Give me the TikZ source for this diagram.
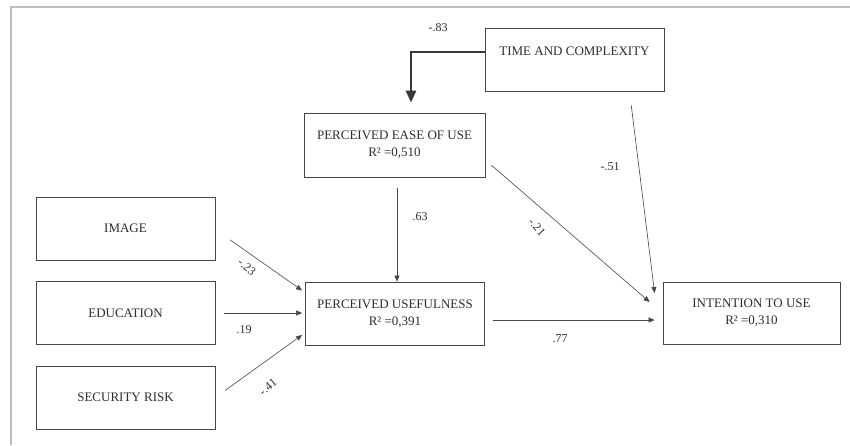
\documentclass[tikz,border=0pt]{standalone}
\usepackage{fontspec}
\setmainfont{Liberation Serif}
\usepackage{xcolor}
\usepackage{tikz}
\usetikzlibrary{positioning, calc, arrows.meta}
\definecolor{tamLine}{RGB}{70, 70, 70}
\definecolor{tamText}{RGB}{45, 45, 45}
\definecolor{tamFrame}{RGB}{190, 190, 190}
\tikzset{
    base/.style={
        font=\fontsize{13}{17}\selectfont,
        text=tamText,
        align=center
    },
    construct/.style={
        base,
        rectangle,
        draw=tamLine,
        line width=0.8pt,
        fill=white,
        minimum width=179pt,
        minimum height=63pt,
        inner sep=0pt
    },
    path/.style={
        -{Triangle[length=6pt, width=5pt]},
        line width=0.6pt,
        color=tamLine
    },
    strong/.style={
        -{Triangle[length=12pt, width=10pt]},
        line width=2.6pt,
        color=tamLine!80!black
    },
    coef/.style={
        base,
        font=\fontsize{12}{14}\selectfont,
        inner sep=1pt
    }
}

\begin{document}
\begin{tikzpicture}[x=1pt, y=-1pt]
    \useasboundingbox (0,0) rectangle (850,445);

    % Frame
    \draw[tamFrame, line width=1.6pt] (11,445) -- (11,7) -- (850,7);

    % Constructs
    \node[construct] (image) at (125.5,228.5) {IMAGE};
    \node[construct] (education) at (125.5,313) {EDUCATION};
    \node[construct] (security) at (125.5,397.5) {SECURITY RISK};
    \node[construct] (pu) at (395,313.5) {PERCEIVED USEFULNESS\\R² =0,391};
    \node[construct, minimum width=181pt, minimum height=64pt] (peou) at (394.5,145) {PERCEIVED EASE OF USE\\R² =0,510};
    \node[construct] (tac) at (574.5,59.5) {TIME AND COMPLEXITY\\~};
    \node[construct, minimum width=177pt, minimum height=62pt] (itu) at (751.5,313) {INTENTION TO USE\\R² =0,310};

    % Paths
    \draw[strong, shorten >=10pt] ([yshift=7.5pt]tac.west) -| ([xshift=16.5pt]peou.north);
    \draw[path, shorten <=18pt] ([yshift=-1pt]image.east) -- ([xshift=-3pt, yshift=23pt]pu.west);
    \draw[path, shorten <=9pt, shorten >=3pt] (education.east) -- ([yshift=0.5pt]pu.west);
    \draw[path, shorten <=12pt] (security.east) -- ([xshift=-3pt, yshift=-21.5pt]pu.west);
    \draw[path, shorten <=11pt] ([xshift=2.5pt]peou.south) -- ([xshift=2pt]pu.north);
    \draw[path, shorten <=8pt] ([yshift=-15pt]peou.east) -- ([xshift=-13pt, yshift=11pt]itu.west);
    \draw[path, shorten <=14pt] ([xshift=55pt]tac.south) -- ([xshift=-8pt, yshift=20pt]itu.west);
    \draw[path, shorten <=8pt, shorten >=8pt] ([yshift=-6.5pt]pu.east) -- ([yshift=-7pt]itu.west);

    % Coefficients
    \node[coef] (c-tac-peou) at (438,28) {-.83};
    \node[coef, rotate=-40] (c-img-pu) at (247,267) {-.23};
    \node[coef] (c-edu-pu) at (244,330) {.19};
    \node[coef, rotate=40] (c-sec-pu) at (268,387) {-.41};
    \node[coef] (c-peou-pu) at (420,217) {.63};
    \node[coef, rotate=-50] (c-peou-itu) at (537,227) {-.21};
    \node[coef] (c-tac-itu) at (610,167) {-.51};
    \node[coef] (c-pu-itu) at (560,339) {.77};

\end{tikzpicture}
\end{document}
